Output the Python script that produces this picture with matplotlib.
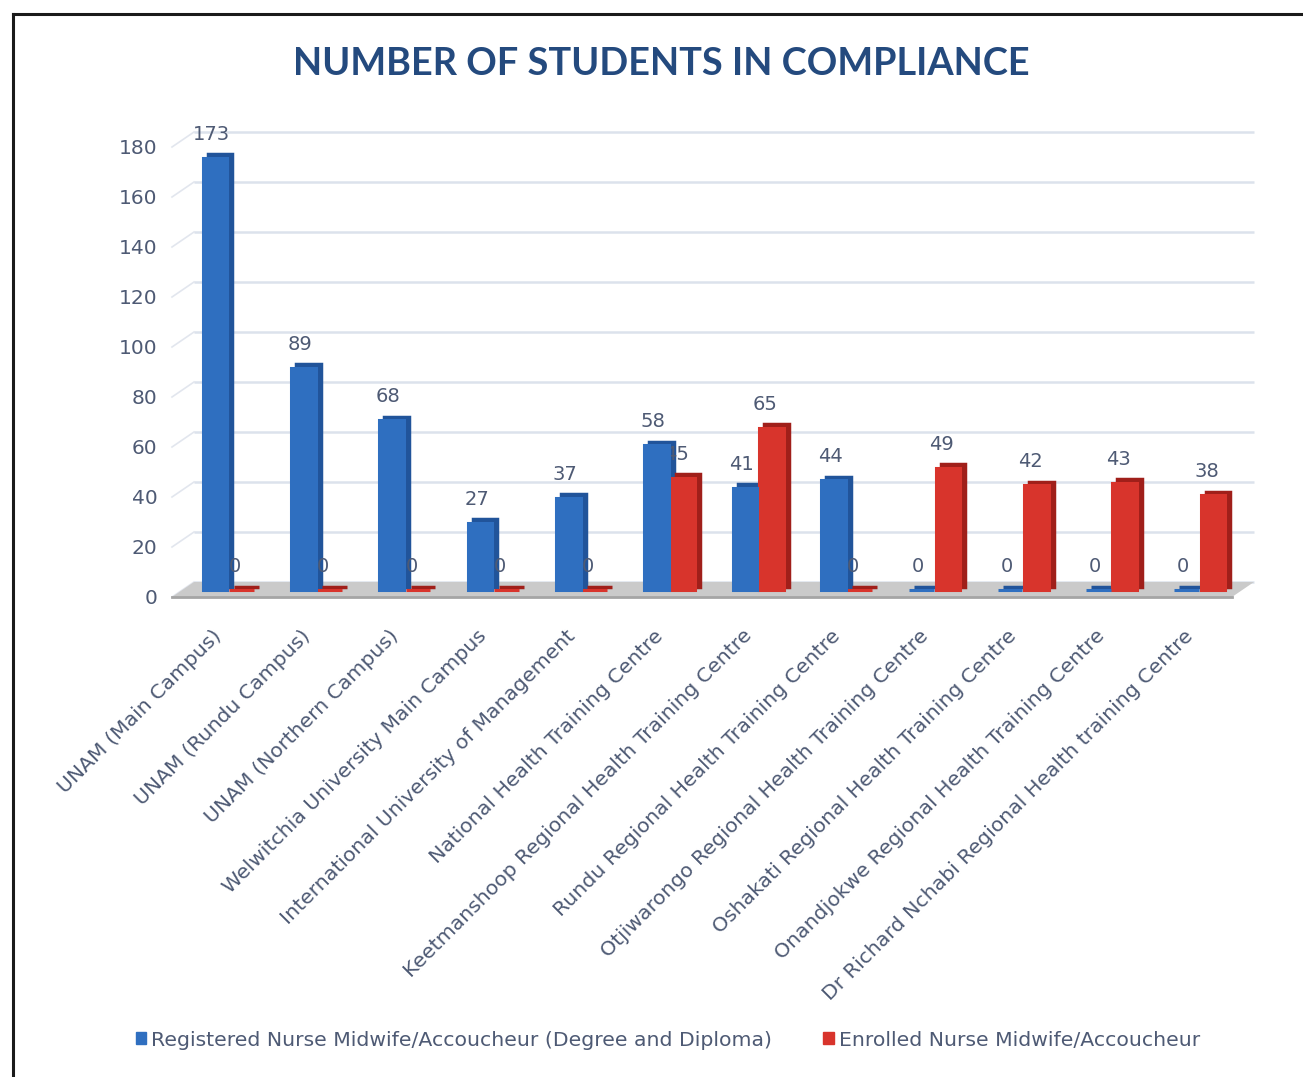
import matplotlib
matplotlib.use("Agg")
import matplotlib.pyplot as plt
import numpy as np
from matplotlib.transforms import ScaledTranslation, IdentityTransform
from matplotlib.lines import Line2D
from matplotlib.patches import Patch, Polygon

categories = [
    "UNAM (Main Campus)",
    "UNAM (Rundu Campus)",
    "UNAM (Northern Campus)",
    "Welwitchia University Main Campus",
    "International University of Management",
    "National Health Training Centre",
    "Keetmanshoop Regional Health Training Centre",
    "Rundu Regional Health Training Centre",
    "Otjiwarongo Regional Health Training Centre",
    "Oshakati Regional Health Training Centre",
    "Onandjokwe Regional Health Training Centre",
    "Dr Richard Nchabi Regional Health training Centre",
]
registered = [173, 89, 68, 27, 37, 58, 41, 44, 0, 0, 0, 0]
enrolled = [0, 0, 0, 0, 0, 45, 65, 0, 49, 42, 43, 38]
series_names = ["Registered Nurse Midwife/Accoucheur (Degree and Diploma)",
                "Enrolled Nurse Midwife/Accoucheur"]
yticks = [0, 20, 40, 60, 80, 100, 120, 140, 160, 180]

W, H = 1303, 1077
fig = plt.figure(figsize=(W / 100, H / 100), dpi=100)
fig.patch.set_facecolor("white")

ax_left, ax_right, ax_zero, ax_top = 184, 1244, 590, 115
ax = fig.add_axes([ax_left / W, 1 - ax_zero / H, (ax_right - ax_left) / W, (ax_zero - ax_top) / H])
ax.set_xlim(-0.5, len(categories) - 0.5)
ax.set_ylim(0, 190)
ax.patch.set_alpha(0)
for s in ax.spines.values():
    s.set_visible(False)

def off(dx, dy):
    return ScaledTranslation(dx / 100, dy / 100, fig.dpi_scale_trans)

text_col = "#4E5A74"
n = len(categories)

# back-wall gridlines (shifted back in depth)
back = ax.transData + off(10, 8)
front = ax.transData + off(-12, -7)
for v in yticks:
    ax.plot([-0.5, n - 0.5], [v, v], transform=back, color="#DCE2EC",
            lw=1.8, zorder=0.5, clip_on=False, solid_capstyle="butt")

# side-wall diagonals joining front and back planes
for v in yticks:
    x0, y0 = front.transform((-0.5, v))
    x1, y1 = back.transform((-0.5, v))
    ax.add_line(Line2D([x0, x1], [y0, y1], transform=IdentityTransform(),
                       color="#E2E6EE", lw=1.2, zorder=0.4, clip_on=False))

# floor
fx0, fy0 = front.transform((-0.5, 0))
fx1, fy1 = front.transform((n - 0.5, 0))
bx0, by0 = back.transform((-0.5, 0))
bx1, by1 = back.transform((n - 0.5, 0))
ax.add_patch(Polygon([[fx0, fy0], [fx1, fy1], [bx1, by1], [bx0, by0]], closed=True,
                     transform=IdentityTransform(), facecolor="#CACACA", edgecolor="none",
                     zorder=1, clip_on=False))
ax.add_line(Line2D([fx0, fx1], [fy0, fy1], transform=IdentityTransform(),
                   color="#A5A5A5", lw=2, zorder=1.1, clip_on=False))

x = np.arange(n)
bw = 0.28
blue_f, blue_d = "#2F6FC0", "#21549A"
red_f, red_d = "#D8342C", "#A01F1A"

depth = ax.transData + off(5, 3.5)
# depth (side + top) faces
for xs, vals, dcol in [(x - bw / 2 - 0.01, registered, blue_d), (x + bw / 2 + 0.01, enrolled, red_d)]:
    ax.bar(xs, vals, bw, color=dcol, edgecolor=dcol, linewidth=2.5, transform=depth, zorder=2,
           clip_on=False)
# front faces
ax.bar(x - bw / 2 - 0.01, registered, bw, color=blue_f, edgecolor=blue_f, linewidth=2.2,
       zorder=3.2, clip_on=False, label=series_names[0])
ax.bar(x + bw / 2 + 0.01, enrolled, bw, color=red_f, edgecolor=red_f, linewidth=2.2, zorder=3,
       clip_on=False, label=series_names[1])

# data labels
for xi, v in zip(x - bw / 2, registered):
    ax.annotate(str(v), (xi, v), xytext=(-3, 10), textcoords="offset points", ha="center",
                va="bottom", fontsize=14, color=text_col, zorder=3.3)
for xi, v in zip(x + bw / 2, enrolled):
    ax.annotate(str(v), (xi, v), xytext=(-4, 10), textcoords="offset points", ha="center",
                va="bottom", fontsize=14, color=text_col, zorder=3.1)

# y ticks (front plane)
ax.set_yticks(yticks)
ax.set_yticklabels([str(t) for t in yticks], fontsize=14.5, color=text_col)
ax.tick_params(axis="y", length=0, pad=19)
for lab in ax.get_yticklabels():
    lab.set_transform(lab.get_transform() + off(0, -7))

# x ticks
ax.set_xticks(x)
ax.set_xticklabels(categories, rotation=45, ha="right", rotation_mode="anchor",
                   fontsize=14.7, color=text_col)
ax.tick_params(axis="x", length=0, pad=26)
for lab in ax.get_xticklabels():
    lab.set_transform(lab.get_transform() + off(-16, 0))

# title
fig.text(661 / W, 1 - 64 / H, "NUMBER OF STUDENTS IN COMPLIANCE", ha="center", va="center",
         fontsize=27.3, fontweight="bold", color="#244A7E", family=["Lato", "DejaVu Sans"])

# legend
handles = [Patch(facecolor=blue_f, edgecolor=blue_f), Patch(facecolor=red_f, edgecolor=red_f)]
leg = fig.legend(handles, series_names, loc="center", bbox_to_anchor=(668 / W, 1 - 1040 / H),
                 ncol=2, frameon=False, fontsize=14.7, handlelength=0.5, handleheight=0.5,
                 handletextpad=0.25, columnspacing=2.5, labelcolor=text_col)

# frame lines (top and left)
fig.add_artist(Line2D([12.5 / W, 12.5 / W], [0, 1 - 13.5 / H], transform=fig.transFigure,
                      color="#1A1A1A", lw=2.2))
fig.add_artist(Line2D([12.5 / W, 1], [1 - 13.5 / H, 1 - 13.5 / H], transform=fig.transFigure,
                      color="#1A1A1A", lw=2.2))

fig.savefig("out.png", dpi=100)
